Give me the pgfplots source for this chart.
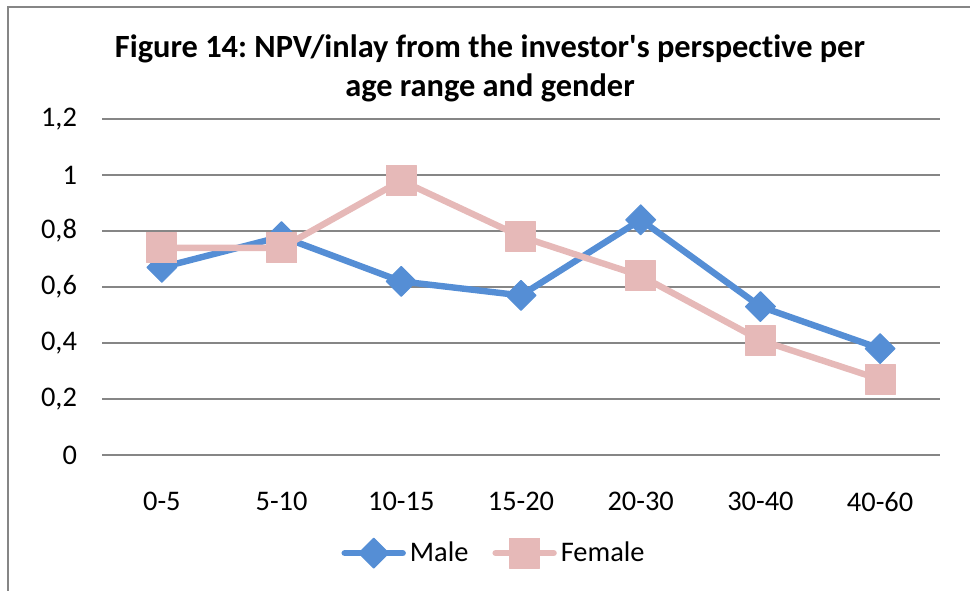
\documentclass[border=0pt]{standalone}
\usepackage{pgfplots}
\pgfplotsset{compat=1.18}
\usepackage{fontspec}
\setmainfont{Carlito}[Ligatures={TeXOff,NoCommon}]
\frenchspacing
\definecolor{maleblue}{HTML}{558ED5}
\definecolor{femalepink}{HTML}{E6B9B8}
\definecolor{gridgray}{HTML}{868686}

\begin{document}
\begin{tikzpicture}
\useasboundingbox (0,0) rectangle (485pt,295pt);
% chart frame (cut at the right and bottom)
\draw[gridgray, line width=0.8pt] (4pt,-2pt) -- (4pt,291.5pt) -- (490pt,291.5pt);
\node[anchor=base, font=\fontsize{16.2}{19}\selectfont\bfseries] at (245pt,266pt)
  {Figure 14: NPV/inlay from the investor's perspective per};
\node[anchor=base, font=\fontsize{16.2}{19}\selectfont\bfseries] at (245pt,246.5pt)
  {age range and gender};
\begin{axis}[
  at={(51pt,67.5pt)}, anchor=south west,
  scale only axis,
  width=419pt, height=168pt,
  xmin=-0.5, xmax=6.5,
  ymin=0, ymax=1.2,
  xtick={0,...,6},
  xticklabels={0-5,5-10,10-15,15-20,20-30,30-40,40-60},
  major x tick style={draw=none},
  extra x ticks={-0.5,0.5,...,6.5},
  extra x tick labels={},
  extra x tick style={tick align=inside, major tick length=4pt,
    tick style={gridgray, line width=0.75pt}, grid=none},
  ytick={0,0.2,...,1.2},
  ytick style={draw=none},
  axis x line*=bottom,
  axis y line*=left,
  y axis line style={draw=none},
  x axis line style={gridgray, line width=0.75pt},
  ymajorgrids,
  grid style={gridgray, line width=0.75pt},
  /pgf/number format/assume math mode=true,
  /pgf/number format/use comma,
  /pgf/number format/fixed,
  yticklabel style={xshift=-9pt},
  xticklabel style={yshift=-15pt},
  tick label style={font=\fontsize{14.2}{17}\selectfont},
  legend columns=2,
  legend style={at={(0.469,-0.292)}, anchor=center, draw=none, fill=none,
    font=\fontsize{14.2}{17}\selectfont,
    /tikz/every even column/.append style={column sep=10pt}},
  legend image code/.code={
    \draw[#1, mark repeat=2, mark phase=2] plot coordinates {(0pt,0pt) (14.5pt,0pt) (29pt,0pt)};
  },
]
\addplot[maleblue, line width=3.2pt, line cap=round, line join=round,
  mark=square*, mark size=5.3pt,
  mark options={rotate=45, solid, fill=maleblue, draw=maleblue, line width=0.5pt}]
  coordinates {(0,0.67) (1,0.78) (2,0.62) (3,0.57) (4,0.84) (5,0.53) (6,0.38)};
\addplot[femalepink, line width=3.2pt, line cap=round, line join=round,
  mark=square*, mark size=7.5pt,
  mark options={solid, fill=femalepink, draw=femalepink, line width=0.5pt, rounded corners=2pt}]
  coordinates {(0,0.74) (1,0.74) (2,0.98) (3,0.78) (4,0.64) (5,0.41) (6,0.27)};
\legend{Male, Female}
\end{axis}
\end{tikzpicture}
\end{document}
